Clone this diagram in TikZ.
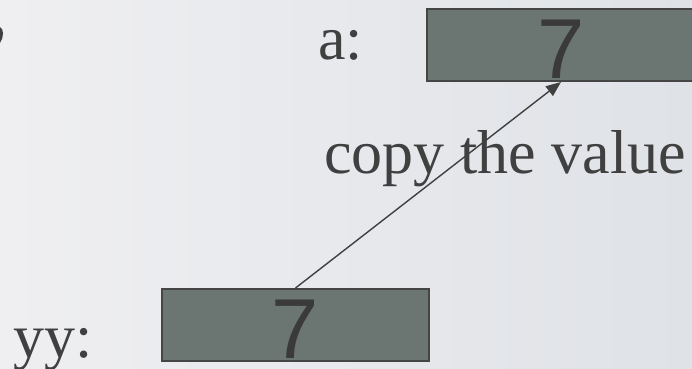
\documentclass[tikz,border=0pt]{standalone}
\usepackage{fontspec}
\setmainfont{Liberation Serif}
\newfontfamily\digitfont{Liberation Sans}
\usetikzlibrary{
	positioning,
	arrows.meta}
\definecolor{slideleft}{HTML}{EFEFF1}
\definecolor{slideright}{HTML}{DFE2E7}
\definecolor{cellfill}{HTML}{6B7571}
\definecolor{cellline}{HTML}{454545}
\definecolor{digitink}{HTML}{3A3A3A}
\definecolor{labelink}{HTML}{404040}
\tikzset{
	value cell/.style={
		rectangle,
		draw=cellline,
		fill=cellfill,
		line width=2pt,
		inner sep=0pt,
		minimum width=267pt,
		minimum height=72pt,
		text height=66pt,
		text=digitink,
		font=\digitfont\fontsize{85}{85}\selectfont
	},
	var name/.style={
		inner sep=0pt,
		text=labelink,
		font=\fontsize{62}{62}\selectfont
	},
	copy arrow/.style={
		draw=labelink,
		line width=1.4pt,
		-{Triangle[length=15pt,width=12pt]}
	},
}

\begin{document}
\begin{tikzpicture}[x=1pt, y=1pt]
	\fill[left color=slideleft, right color=slideright] (0,0) rectangle (692,368);
	\useasboundingbox (0,0) rectangle (692,368);
%
	\node[value cell]                       (yy) at (295.5,43) {7};
	\node[value cell, minimum width=268pt]  (a)  at (561,323)  {7};
	\node[var name, left=63pt of a]         (aname)  {a:};
	\node[var name, left=68pt of yy, yshift=-25pt] (yyname) {yy:};
	\node[var name, anchor=base west]       (copy) at (324,195) {copy the value};
%
	\draw[copy arrow] (yy.north) -- (a.south);
%
	% tail of a cut-off glyph at the left edge
	\fill[labelink] (0,341) .. controls (4,339) and (4,331) .. (0,325) -- cycle;
\end{tikzpicture}
\end{document}
